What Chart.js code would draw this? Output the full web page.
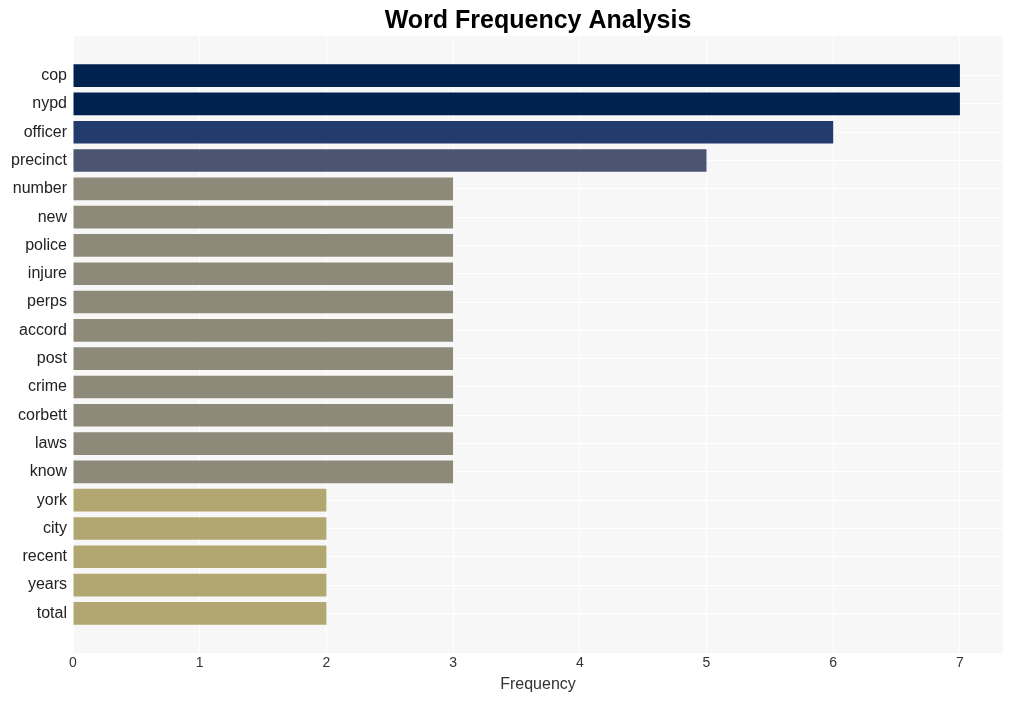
<!DOCTYPE html>
<html>
<head>
<meta charset="utf-8">
<script src="https://cdn.jsdelivr.net/npm/chart.js@4/dist/chart.umd.min.js"></script>
<style>
    html, body { margin: 0; padding: 0; background: #fff; }
    #wrap { width: 1013px; height: 701px; }
</style>
</head>
<body>
<div id="wrap"><canvas id="myChart" width="1013" height="701"></canvas></div>
<script>
const words = ["cop", "nypd", "officer", "precinct", "number", "new", "police", "injure", "perps", "accord",
    "post", "crime", "corbett", "laws", "know", "york", "city", "recent", "years", "total"];
const counts = [7, 7, 6, 5, 3, 3, 3, 3, 3, 3, 3, 3, 3, 3, 3, 2, 2, 2, 2, 2];
const xTicks = [0, 1, 2, 3, 4, 5, 6, 7];

const colorFor = (value) => {
    if (value >= 7) return "#00224e";
    if (value === 6) return "#233a6e";
    if (value === 5) return "#4b5470";
    if (value === 3) return "#8e8a7a";
    return "#b2a771";
};

const plotBackground = {
    id: "plotBackground",
    beforeDraw: (chart) => {
        const { ctx, chartArea } = chart;
        ctx.save();
        ctx.fillStyle = "#f7f7f7";
        ctx.fillRect(chartArea.left, chartArea.top, chartArea.width, chartArea.height);
        ctx.restore();
    },
};

const ctx = document.querySelector("#myChart");

new Chart(ctx, {
    type: "bar",
    data: {
        datasets: [
            {
                data: words.map((w, i) => ({ x: counts[i], y: i })),
                backgroundColor: counts.map(colorFor),
                borderWidth: 0,
                barPercentage: 0.8,
                categoryPercentage: 1,
            },
        ],
    },
    options: {
        indexAxis: "y",
        responsive: false,
        animation: false,
        layout: { padding: { left: 0, right: 10, top: 0, bottom: 4 } },
        plugins: {
            legend: false,
            tooltip: { enabled: false },
            title: {
                display: true,
                text: "Word Frequency Analysis",
                fullSize: false,
                color: "#000",
                font: { family: "Liberation Sans, Arial, sans-serif", size: 25, weight: "bold" },
                padding: { top: 6, bottom: 0 },
            },
        },
        scales: {
            x: {
                type: "linear",
                min: 0,
                max: 7.34,
                afterBuildTicks: (axis) => {
                    axis.ticks = xTicks.map((v) => ({ value: v }));
                },
                grid: { color: "#ffffff", lineWidth: 1, drawTicks: false },
                border: { display: false },
                ticks: {
                    color: "#333",
                    padding: 2,
                    font: { family: "Liberation Sans, Arial, sans-serif", size: 14 },
                },
                title: {
                    display: true,
                    text: "Frequency",
                    color: "#333",
                    padding: { top: 1, bottom: 3 },
                    font: { family: "Liberation Sans, Arial, sans-serif", size: 16 },
                },
            },
            y: {
                type: "linear",
                reverse: true,
                offset: false,
                min: -1.4,
                max: 20.4,
                afterBuildTicks: (axis) => {
                    axis.ticks = words.map((w, i) => ({ value: i }));
                },
                afterFit: (axis) => {
                    axis.width = 73;
                },
                grid: { color: "#ffffff", lineWidth: 1, drawTicks: false, offset: false },
                border: { display: false },
                ticks: {
                    color: "#222",
                    padding: 6,
                    autoSkip: false,
                    font: { family: "Liberation Sans, Arial, sans-serif", size: 16 },
                    callback: (value) => words[value] ?? "",
                },
            },
        },
    },
    plugins: [plotBackground],
});
</script>
</body>
</html>
